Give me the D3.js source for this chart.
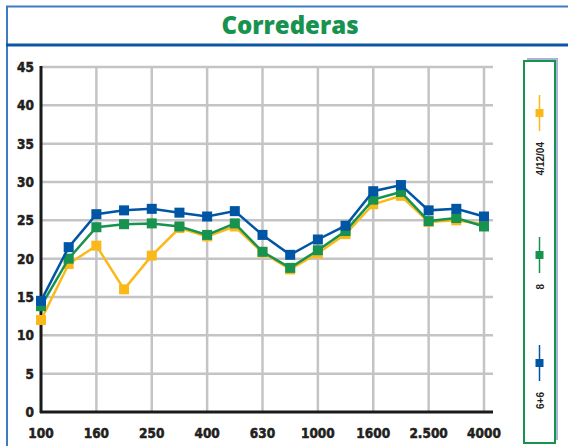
<!DOCTYPE html>
<html>
<head>
<meta charset="utf-8">
<script src="https://cdn.jsdelivr.net/npm/d3@7"></script>
<style>
  body { margin: 0; background: #fff; }
  svg { display: block; }
  .tick-label { font-family: "DejaVu Sans Condensed", "DejaVu Sans", sans-serif; font-stretch: condensed; font-weight: bold; font-size: 13.5px; fill: #231f20; stroke: #231f20; stroke-width: 0.5px; }
</style>
</head>
<body>
<div id="chart"></div>
<script>
// third-octave bands (Hz)
const bands = ["100","125","160","200","250","315","400","500","630","800","1000","1250","1600","2000","2500","3150","4000"];
const tickLabels = ["100","160","250","400","630","1000","1600","2.500","4000"];
const yTicks = [0,5,10,15,20,25,30,35,40,45];

const seriesNames = ["4/12/04", "8", "6+6"];
const seriesColors = ["#fbb919", "#17924f", "#0055a5"];

const valuesDate = [12.0, 19.3, 21.7, 16.0, 20.4, 24.0, 22.9, 24.2, 20.8, 18.6, 20.7, 23.2, 27.1, 28.2, 24.8, 25.0, 24.5];
const values8    = [13.8, 20.0, 24.1, 24.5, 24.6, 24.2, 23.1, 24.6, 20.9, 18.8, 21.1, 23.6, 27.7, 28.7, 24.9, 25.3, 24.2];
const values66   = [14.5, 21.5, 25.8, 26.3, 26.5, 26.0, 25.5, 26.2, 23.1, 20.5, 22.5, 24.3, 28.8, 29.6, 26.3, 26.5, 25.5];

const allSeries = [valuesDate, values8, values66];

const width = 568, height = 446;
const plot = { left: 41, right: 493, top: 67, bottom: 412 };
// legend layout (y of each marker)
const legendSlots = [113, 255, 363];

const svg = d3.select("#chart").append("svg")
    .attr("width", width)
    .attr("height", height);

// frame
svg.append("line").attr("x1", 7).attr("x2", 7).attr("y1", 6).attr("y2", height)
    .attr("stroke", "#3b7cc2").attr("stroke-width", 2);
svg.append("line").attr("x1", 6).attr("x2", width).attr("y1", 6.5).attr("y2", 6.5)
    .attr("stroke", "#3b7cc2").attr("stroke-width", 2);
svg.append("line").attr("x1", 6).attr("x2", width).attr("y1", 45).attr("y2", 45)
    .attr("stroke", "#0a55a6").attr("stroke-width", 3);

svg.append("text")
    .attr("x", 290).attr("y", 34)
    .attr("text-anchor", "middle")
    .style("font-family", "'Open Sans', sans-serif")
    .style("font-weight", 800)
    .style("font-size", "24px")
    .style("fill", "#17924f")
    .text("Correderas");

const x = d3.scalePoint().domain(bands).range([41, 484]);
const y = d3.scaleLinear().domain([0, 45]).range([plot.bottom, plot.top]);

// grid
const grid = svg.append("g");
grid.selectAll(".hgrid")
    .data(yTicks.filter(d => d > 0))
    .enter().append("line")
    .attr("x1", plot.left).attr("x2", plot.right)
    .attr("y1", d => y(d)).attr("y2", d => y(d))
    .attr("stroke", "#c4c4c7").attr("stroke-width", 2.5);
grid.selectAll(".vgrid")
    .data(bands.filter((d, i) => i % 2 === 0 && i > 0))
    .enter().append("line")
    .attr("x1", d => x(d)).attr("x2", d => x(d))
    .attr("y1", plot.top).attr("y2", plot.bottom)
    .attr("stroke", "#c4c4c7").attr("stroke-width", 2.5);

// axes
svg.append("line").attr("x1", plot.left).attr("x2", plot.left)
    .attr("y1", plot.top - 1).attr("y2", plot.bottom + 1)
    .attr("stroke", "#1a1a1a").attr("stroke-width", 3);
svg.append("line").attr("x1", plot.left - 1).attr("x2", plot.right)
    .attr("y1", plot.bottom).attr("y2", plot.bottom)
    .attr("stroke", "#1a1a1a").attr("stroke-width", 3);

svg.append("g").selectAll("text")
    .data(yTicks)
    .enter().append("text")
    .attr("class", "tick-label")
    .attr("x", 34)
    .attr("y", d => y(d) + 5)
    .attr("text-anchor", "end")
    .text(d => d);

const labelBands = bands.filter((d, i) => i % 2 === 0);
svg.append("g").selectAll("text")
    .data(tickLabels)
    .enter().append("text")
    .attr("class", "tick-label")
    .attr("x", (d, i) => x(labelBands[i]))
    .attr("y", 438)
    .attr("text-anchor", "middle")
    .text(d => d);

// series
const line = d3.line()
    .x((d, i) => x(bands[i]))
    .y(d => y(d));

allSeries.forEach((vals, s) => {
    const g = svg.append("g");
    g.append("path")
        .datum(vals)
        .attr("d", line)
        .attr("fill", "none")
        .attr("stroke", seriesColors[s])
        .attr("stroke-width", 2.5);
    g.selectAll("rect")
        .data(vals)
        .enter().append("rect")
        .attr("x", (d, i) => x(bands[i]) - 5)
        .attr("y", d => y(d) - 5)
        .attr("width", 10)
        .attr("height", 10)
        .attr("fill", seriesColors[s]);
});

// legend
const lg = svg.append("g");
lg.append("rect").attr("x", 527).attr("y", 58).attr("width", 31).attr("height", 382)
    .attr("fill", "#aab4da");
lg.append("rect").attr("x", 524).attr("y", 61).attr("width", 31).attr("height", 382)
    .attr("fill", "#fff").attr("stroke", "#17924f").attr("stroke-width", 2);

seriesNames.forEach((name, s) => {
    const cy = legendSlots[s];
    lg.append("line").attr("x1", 539.5).attr("x2", 539.5)
        .attr("y1", cy - 18).attr("y2", cy + 18)
        .attr("stroke", seriesColors[s]).attr("stroke-width", 1.5);
    lg.append("rect").attr("x", 535.5).attr("y", cy - 4).attr("width", 8).attr("height", 8)
        .attr("fill", seriesColors[s]);
    lg.append("text")
        .attr("transform", `translate(543.5, ${cy + 29}) rotate(-90)`)
        .attr("text-anchor", "end")
        .style("font-family", "'Liberation Sans', Arial, sans-serif")
        .style("font-weight", "bold")
        .style("font-size", "10px")
        .style("fill", "#231f20")
        .text(name);
});
</script>
</body>
</html>
